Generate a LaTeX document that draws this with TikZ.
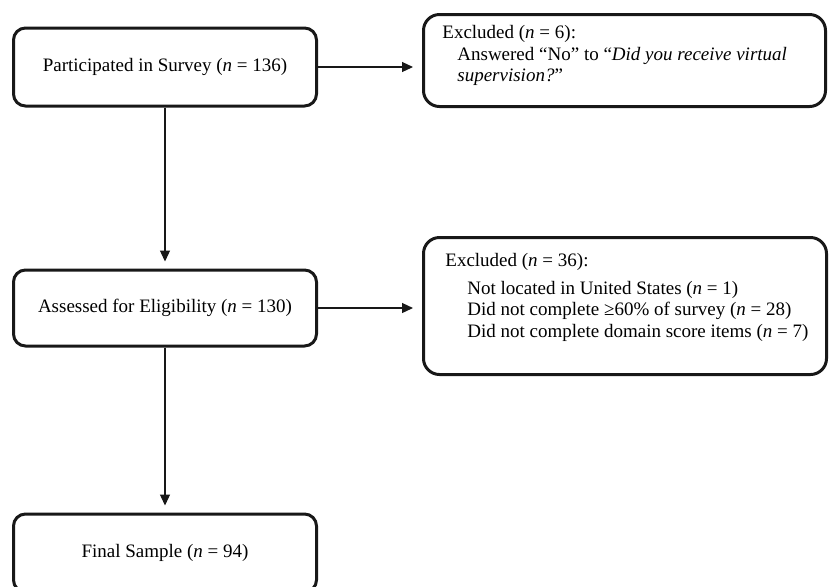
\documentclass[tikz,border=0pt]{standalone}
\usepackage{fontspec}
\setmainfont{Liberation Serif}
\usetikzlibrary{arrows.meta,calc}
\definecolor{flowblack}{RGB}{24,24,24}

\begin{document}
\begin{tikzpicture}[
  x=0.5pt,
  y=-0.5pt,
  flow box/.style={
    draw=flowblack,
    line width=1.5pt,
    rounded corners=6pt,
    minimum width=151.5pt,
    minimum height=39pt,
    inner sep=0pt,
    font=\fontsize{9.5}{10.75}\selectfont
  },
  note box/.style={
    flow box,
    rounded corners=8pt,
    minimum width=201pt
  },
  note text/.style={
    anchor=north west,
    align=left,
    inner sep=0pt,
    font=\fontsize{9.5}{10.75}\selectfont
  },
  flow arrow/.style={
    draw=flowblack,
    line width=0.6pt,
    -{Triangle[length=5.5pt,width=5pt]}
  }
]

\useasboundingbox (0,0) rectangle (830,586);

% Main column of the flow chart.
\node[flow box] (survey) at (165,67) {Participated in Survey (\textit{n} = 136)};
\node[flow box, minimum height=38pt] (eligible) at (165,308)
  {Assessed for Eligibility (\textit{n} = 130)};
\node[flow box] (final) at (165,553) {Final Sample (\textit{n} = 94)};

% Exclusion boxes on the right.
\node[note box, minimum height=46pt] (excl-a) at (624.5,60.5) {};
\node[note box, minimum width=201.5pt, minimum height=68.5pt] (excl-b) at (625,306) {};

\node[note text] (excl-a-text) at (442,25)
  {Excluded (\textit{n} = 6):\\
   \hspace*{7.5pt}Answered “No” to “\textit{Did you receive virtual}\\
   \hspace*{7.5pt}\textit{supervision?}”};
\node[note text] (excl-b-text) at (445,253)
  {Excluded (\textit{n} = 36):\\[3pt]
   \hspace*{11pt}Not located in United States (\textit{n} = 1)\\
   \hspace*{11pt}Did not complete ≥60\% of survey (\textit{n} = 28)\\
   \hspace*{11pt}Did not complete domain score items (\textit{n} = 7)};

% Connectors.
\draw[flow arrow, shorten >=4.5pt] (survey.east) -- (survey.east -| excl-a.west);
\draw[flow arrow, shorten >=3.5pt] (survey.south) -- (eligible.north);
\draw[flow arrow, shorten >=4.5pt] (eligible.east) -- (eligible.east -| excl-b.west);
\draw[flow arrow, shorten >=3.5pt] (eligible.south) -- (final.north);

\end{tikzpicture}
\end{document}
